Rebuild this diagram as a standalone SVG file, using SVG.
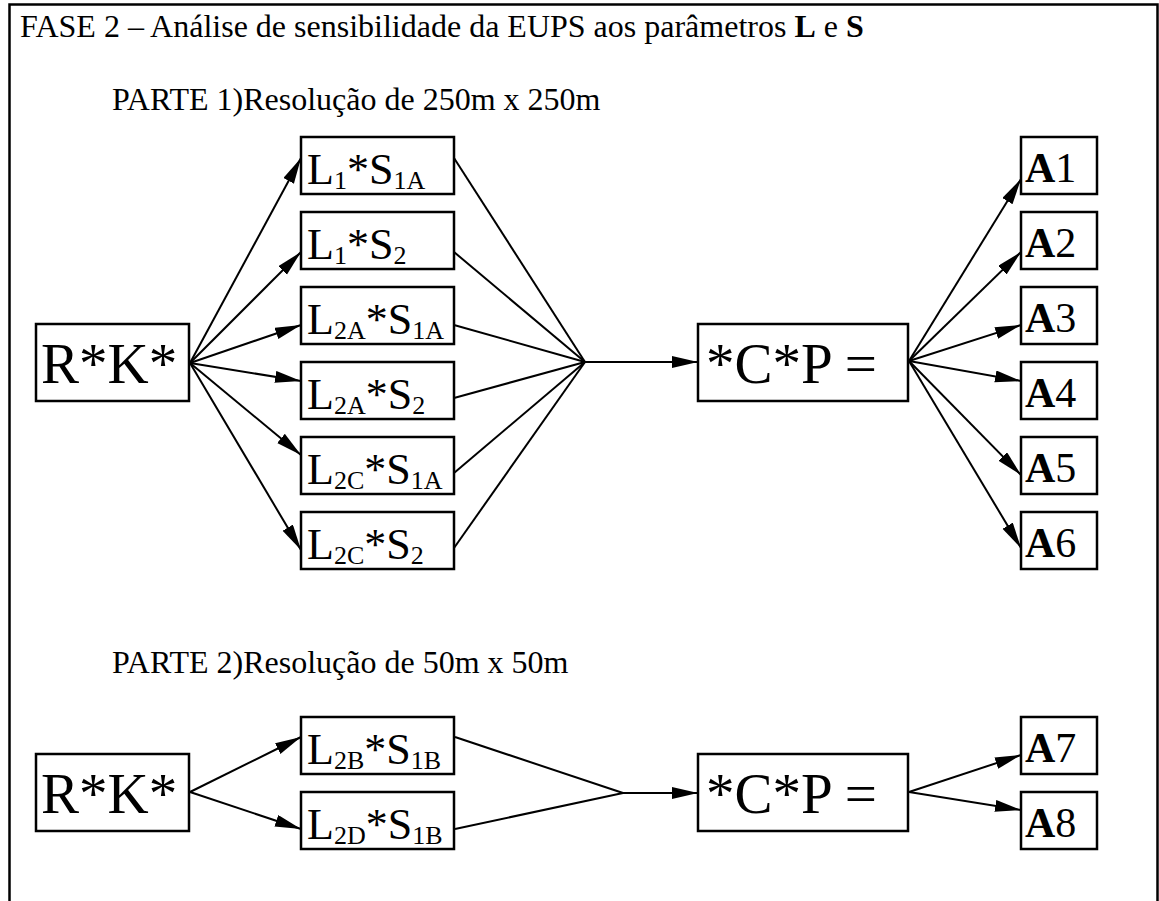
<svg xmlns="http://www.w3.org/2000/svg" width="1159" height="901" viewBox="0 0 1159 901">
  <style>
    text { font-family: "Liberation Serif", "Times New Roman", serif; fill: #000; }
    .hdr { font-size: 32px; }
    .part { font-size: 32px; }
    .big { font-size: 57px; }
    .lm { font-size: 44px; }
    .ls { font-size: 26px; }
    .am { font-size: 42px; }
    .box { fill: #fff; stroke: #000; stroke-width: 2.5; }
    .edge { stroke: #000; stroke-width: 2; fill: none; }
    .arr { marker-end: url(#ah); }
  </style>
  <defs>
    <marker id="ah" markerUnits="userSpaceOnUse" markerWidth="28" markerHeight="14" refX="26" refY="6" orient="auto">
      <path d="M0,0 L26,6 L0,12 z" fill="#000"/>
    </marker>
  </defs>
  <rect width="1159" height="901" fill="#fff"/>
  <path d="M9.5,905 V4.5 H1157.5 V905" fill="none" stroke="#000" stroke-width="2.5"/>

  <g id="titles">
    <text class="hdr" x="20" y="37">FASE 2 – Análise de sensibilidade da EUPS aos parâmetros <tspan font-weight="bold">L</tspan> e <tspan font-weight="bold">S</tspan></text>
    <text class="part" x="112" y="110">PARTE 1)Resolução de 250m x 250m</text>
    <text class="part" x="112" y="673">PARTE 2)Resolução de 50m x 50m</text>
  </g>

  <g id="connectors">
    <!-- Part 1: R*K* to L boxes -->
    <line class="edge arr" x1="190" y1="363" x2="301" y2="158"/>
    <line class="edge arr" x1="190" y1="363" x2="301" y2="252"/>
    <line class="edge arr" x1="190" y1="363" x2="301" y2="325"/>
    <line class="edge arr" x1="190" y1="363" x2="301" y2="381"/>
    <line class="edge arr" x1="190" y1="363" x2="301" y2="455"/>
    <line class="edge arr" x1="190" y1="363" x2="301" y2="550"/>
    <!-- L boxes to junction -->
    <line class="edge" x1="454" y1="158" x2="585" y2="362"/>
    <line class="edge" x1="454" y1="252" x2="585" y2="362"/>
    <line class="edge" x1="454" y1="325" x2="585" y2="362"/>
    <line class="edge" x1="454" y1="398" x2="585" y2="362"/>
    <line class="edge" x1="454" y1="473" x2="585" y2="362"/>
    <line class="edge" x1="454" y1="548" x2="585" y2="362"/>
    <line class="edge arr" x1="585" y1="362" x2="698" y2="362"/>
    <!-- *C*P to A boxes -->
    <line class="edge arr" x1="909" y1="361" x2="1021" y2="179"/>
    <line class="edge arr" x1="909" y1="361" x2="1021" y2="252"/>
    <line class="edge arr" x1="909" y1="361" x2="1021" y2="325"/>
    <line class="edge arr" x1="909" y1="361" x2="1021" y2="381"/>
    <line class="edge arr" x1="909" y1="361" x2="1021" y2="475"/>
    <line class="edge arr" x1="909" y1="361" x2="1021" y2="548"/>
    <!-- Part 2 -->
    <line class="edge arr" x1="190" y1="792" x2="301" y2="737"/>
    <line class="edge arr" x1="190" y1="792" x2="301" y2="829"/>
    <line class="edge" x1="455" y1="737" x2="623" y2="793"/>
    <line class="edge" x1="455" y1="829" x2="623" y2="793"/>
    <line class="edge arr" x1="623" y1="793" x2="698" y2="793"/>
    <line class="edge arr" x1="909" y1="792" x2="1021" y2="755"/>
    <line class="edge arr" x1="909" y1="792" x2="1021" y2="810"/>
  </g>

  <g id="rk1">
    <rect class="box" x="36" y="324" width="153" height="77"/>
    <text class="big" x="41" y="383">R*K*</text>
  </g>
  <g id="l1s1a">
    <rect class="box" x="301" y="137" width="153" height="57"/>
    <text class="lm" x="307" y="184">L<tspan class="ls" dy="5">1</tspan><tspan dy="-5">*S</tspan><tspan class="ls" dy="5">1A</tspan></text>
  </g>
  <g id="l1s2">
    <rect class="box" x="301" y="212" width="153" height="57"/>
    <text class="lm" x="307" y="259">L<tspan class="ls" dy="5">1</tspan><tspan dy="-5">*S</tspan><tspan class="ls" dy="5">2</tspan></text>
  </g>
  <g id="l2as1a">
    <rect class="box" x="301" y="287" width="153" height="57"/>
    <text class="lm" x="307" y="334">L<tspan class="ls" dy="5">2A</tspan><tspan dy="-5">*S</tspan><tspan class="ls" dy="5">1A</tspan></text>
  </g>
  <g id="l2as2">
    <rect class="box" x="301" y="362" width="153" height="57"/>
    <text class="lm" x="307" y="409">L<tspan class="ls" dy="5">2A</tspan><tspan dy="-5">*S</tspan><tspan class="ls" dy="5">2</tspan></text>
  </g>
  <g id="l2cs1a">
    <rect class="box" x="301" y="437" width="153" height="57"/>
    <text class="lm" x="307" y="484">L<tspan class="ls" dy="5">2C</tspan><tspan dy="-5">*S</tspan><tspan class="ls" dy="5">1A</tspan></text>
  </g>
  <g id="l2cs2">
    <rect class="box" x="301" y="512" width="153" height="57"/>
    <text class="lm" x="307" y="559">L<tspan class="ls" dy="5">2C</tspan><tspan dy="-5">*S</tspan><tspan class="ls" dy="5">2</tspan></text>
  </g>
  <g id="cp1">
    <rect class="box" x="698" y="324" width="210" height="77"/>
    <text class="big" x="706" y="383">*C*P =</text>
  </g>
  <g id="a1">
    <rect class="box" x="1021" y="137" width="76" height="57"/>
    <text class="am" x="1025" y="182"><tspan font-weight="bold">A</tspan>1</text>
  </g>
  <g id="a2">
    <rect class="box" x="1021" y="212" width="76" height="57"/>
    <text class="am" x="1025" y="257"><tspan font-weight="bold">A</tspan>2</text>
  </g>
  <g id="a3">
    <rect class="box" x="1021" y="287" width="76" height="57"/>
    <text class="am" x="1025" y="332"><tspan font-weight="bold">A</tspan>3</text>
  </g>
  <g id="a4">
    <rect class="box" x="1021" y="362" width="76" height="57"/>
    <text class="am" x="1025" y="407"><tspan font-weight="bold">A</tspan>4</text>
  </g>
  <g id="a5">
    <rect class="box" x="1021" y="437" width="76" height="57"/>
    <text class="am" x="1025" y="482"><tspan font-weight="bold">A</tspan>5</text>
  </g>
  <g id="a6">
    <rect class="box" x="1021" y="512" width="76" height="57"/>
    <text class="am" x="1025" y="557"><tspan font-weight="bold">A</tspan>6</text>
  </g>

  <g id="rk2">
    <rect class="box" x="36" y="754" width="153" height="77"/>
    <text class="big" x="41" y="813">R*K*</text>
  </g>
  <g id="l2bs1b">
    <rect class="box" x="301" y="717" width="153" height="57"/>
    <text class="lm" x="307" y="764">L<tspan class="ls" dy="5">2B</tspan><tspan dy="-5">*S</tspan><tspan class="ls" dy="5">1B</tspan></text>
  </g>
  <g id="l2ds1b">
    <rect class="box" x="301" y="792" width="153" height="57"/>
    <text class="lm" x="307" y="839">L<tspan class="ls" dy="5">2D</tspan><tspan dy="-5">*S</tspan><tspan class="ls" dy="5">1B</tspan></text>
  </g>
  <g id="cp2">
    <rect class="box" x="698" y="754" width="210" height="77"/>
    <text class="big" x="706" y="813">*C*P =</text>
  </g>
  <g id="a7">
    <rect class="box" x="1021" y="717" width="76" height="57"/>
    <text class="am" x="1025" y="762"><tspan font-weight="bold">A</tspan>7</text>
  </g>
  <g id="a8">
    <rect class="box" x="1021" y="792" width="76" height="57"/>
    <text class="am" x="1025" y="837"><tspan font-weight="bold">A</tspan>8</text>
  </g>
</svg>
